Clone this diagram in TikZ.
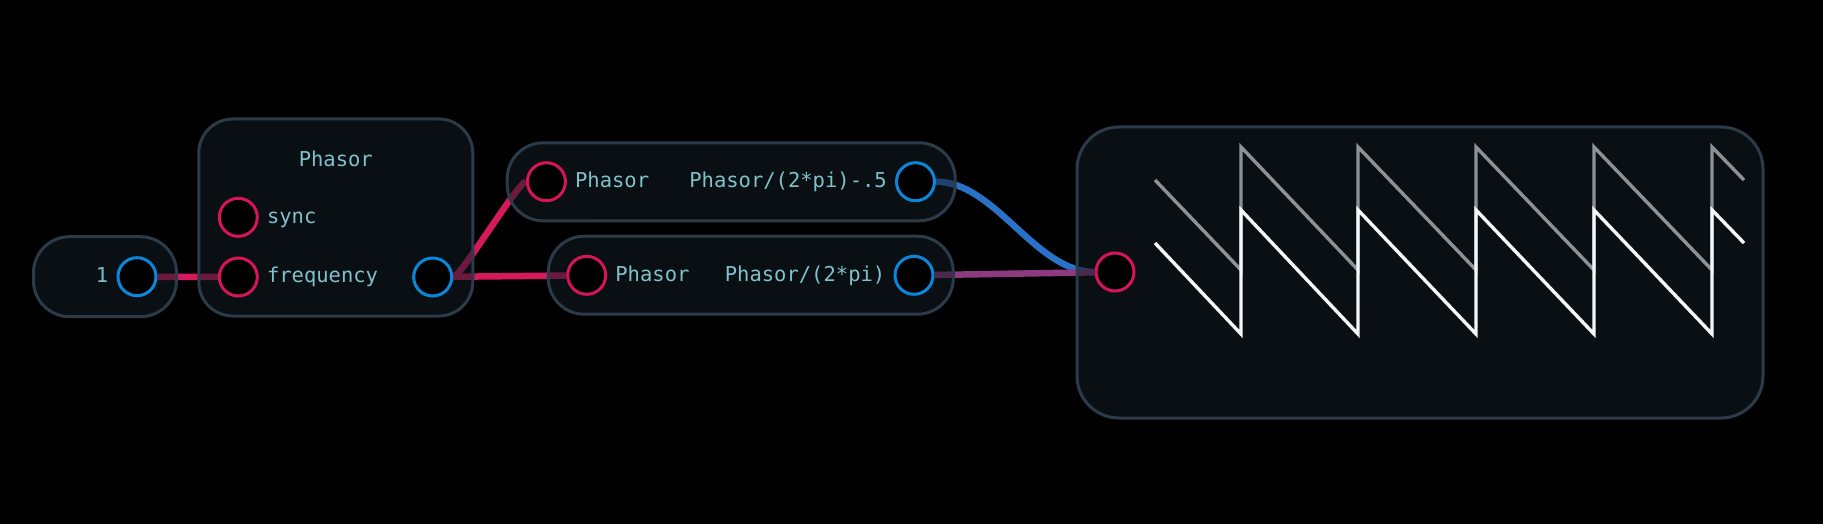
\documentclass[tikz,border=0pt]{standalone}
\usepackage{fontspec}
\setmonofont{DejaVu Sans Mono}
\usetikzlibrary{positioning}
\definecolor{boxfill}{HTML}{141C24}
\definecolor{boxline}{HTML}{2B3B49}
\definecolor{txtcol}{HTML}{7FC2CA}
\definecolor{inred}{HTML}{D6145A}
\definecolor{outblue}{HTML}{0A86DA}
\definecolor{wirepink}{HTML}{D6185C}
\definecolor{wireblue}{HTML}{2A72C8}
\definecolor{wirepurple}{HTML}{8E3A80}
\definecolor{tracegray}{HTML}{8C9298}
\definecolor{tracewhite}{HTML}{F4F6F8}
\pgfdeclarelayer{bg}
\pgfdeclarelayer{wires}
\pgfsetlayers{bg,wires,main}
\tikzstyle{block} = [rectangle, rounded corners=36pt, draw=boxline, line width=3pt, fill=boxfill, fill opacity=0.55, inner sep=0pt]
\tikzstyle{inport} = [circle, draw=inred, line width=3pt, fill=black, minimum size=38pt, inner sep=0pt]
\tikzstyle{outport} = [inport, draw=outblue]
\tikzstyle{txt} = [text=txtcol, font=\fontsize{20.5}{23}\selectfont\ttfamily, inner sep=0pt, text height=15.8pt, text depth=4pt]
\tikzstyle{wire} = [line width=6.5pt]
\tikzstyle{trace} = [line width=3.4pt]

\begin{document}
\begin{tikzpicture}[x=1pt, y=-1pt]
    \useasboundingbox (0,0) rectangle (1823,524);
    \begin{pgfonlayer}{bg}
        \fill[black] (0,0) rectangle (1823,524);
    \end{pgfonlayer}

    % boxes
    \node[block, minimum width=143pt, minimum height=80pt] (constbox) at (105,276.7) {};
    \node[block, rounded corners=34pt, minimum width=274pt, minimum height=197pt] (phasorbox) at (335.8,217.5) {};
    \node[block, minimum width=448pt, minimum height=78pt] (exprabox) at (731.2,181.8) {};
    \node[block, minimum width=405pt, minimum height=78pt] (exprbbox) at (750.8,275.2) {};
    \node[block, rounded corners=42pt, minimum width=686pt, minimum height=291pt] (scopebox) at (1420,272.5) {};

    % ports
    \node[outport] (constout) at (137,276.7) {};
    \node[inport] (sync) at (238.3,217.3) {};
    \node[inport] (freq) at (238.3,277) {};
    \node[outport] (phasorout) at (432.7,277) {};
    \node[inport] (exprain) at (546.4,181.7) {};
    \node[outport] (expraout) at (915.5,181.7) {};
    \node[inport] (exprbin) at (586.7,275.3) {};
    \node[outport] (exprbout) at (914,275.3) {};
    \node[inport] (scopein) at (1115,272) {};

    % texts
    \node[txt, left=8pt of constout] (consttxt) {1};
    \node[txt] (phasortitle) at (335.8,160.3) {Phasor};
    \node[txt, right=8pt of sync] (synctxt) {sync};
    \node[txt, right=8pt of freq] (freqtxt) {frequency};
    \node[txt, right=8pt of exprain] (expraintxt) {Phasor};
    \node[txt, left=8pt of expraout] (expraouttxt) {Phasor/(2*pi)-.5};
    \node[txt, right=8pt of exprbin] (exprbintxt) {Phasor};
    \node[txt, left=8pt of exprbout] (exprbouttxt) {Phasor/(2*pi)};

    % scope traces
    \draw[trace, tracegray] (1155,180) -- (1241,270) -- (1241,147) -- (1358,270) -- (1358,147) -- (1476,270) -- (1476,147) -- (1594,270) -- (1594,147) -- (1712,270) -- (1712,147) -- (1744,180);
    \draw[trace, tracewhite] (1155,243) -- (1241,334) -- (1241,210) -- (1358,334) -- (1358,210) -- (1476,334) -- (1476,210) -- (1594,334) -- (1594,210) -- (1712,334) -- (1712,210) -- (1744,243);

    % wires
    \begin{pgfonlayer}{wires}
        \draw[wire, wirepink] (constout) -- (freq);
        \draw[wire, wirepink] (phasorout) .. controls +(28,0) and +(-28,0) .. (exprain);
        \draw[wire, wirepink] (phasorout) -- (exprbin);
        \draw[wire, wireblue] (expraout) .. controls +(80,0) and +(-80,0) .. (scopein);
        \draw[wire, wirepurple] (exprbout) -- (scopein);
    \end{pgfonlayer}
\end{tikzpicture}
\end{document}
